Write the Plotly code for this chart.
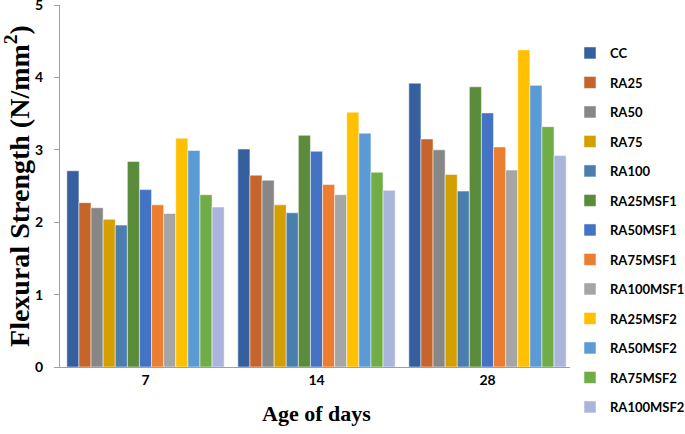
import plotly.graph_objects as go

categories = ["7", "14", "28"]
series_names = ["CC", "RA25", "RA50", "RA75", "RA100", "RA25MSF1", "RA50MSF1",
                "RA75MSF1", "RA100MSF1", "RA25MSF2", "RA50MSF2", "RA75MSF2", "RA100MSF2"]
CC = [2.71, 3.01, 3.92]
RA25 = [2.27, 2.65, 3.15]
RA50 = [2.20, 2.58, 3.00]
RA75 = [2.04, 2.24, 2.66]
RA100 = [1.96, 2.13, 2.43]
RA25MSF1 = [2.84, 3.20, 3.87]
RA50MSF1 = [2.45, 2.98, 3.51]
RA75MSF1 = [2.24, 2.52, 3.04]
RA100MSF1 = [2.12, 2.38, 2.72]
RA25MSF2 = [3.16, 3.52, 4.38]
RA50MSF2 = [2.99, 3.23, 3.89]
RA75MSF2 = [2.38, 2.69, 3.32]
RA100MSF2 = [2.21, 2.44, 2.92]
values = [CC, RA25, RA50, RA75, RA100, RA25MSF1, RA50MSF1, RA75MSF1, RA100MSF1,
          RA25MSF2, RA50MSF2, RA75MSF2, RA100MSF2]
colors = ["#365F9F", "#C5652B", "#878787", "#D49F00", "#4A7EAE", "#5B8C3B", "#4472C4",
          "#ED7D31", "#A5A5A5", "#FFC000", "#5B9BD5", "#70AD47", "#A9B5DB"]

fig = go.Figure()
for name, vals, col in zip(series_names, values, colors):
    fig.add_trace(go.Bar(x=categories, y=vals, name=name, legendgroup=name,
                         marker=dict(color=col, line=dict(color="white", width=0.5))))

fig.update_layout(
    width=685, height=434,
    margin=dict(l=60, r=112, t=5, b=67, autoexpand=False),
    plot_bgcolor="white", paper_bgcolor="white",
    barmode="group", bargap=0.08, bargroupgap=0,
    font=dict(family="Lato", color="black"),
    legend=dict(xref="container", yref="container", x=570 / 685, y=1 - 38 / 434,
                xanchor="left", yanchor="top",
                font=dict(family="Lato", size=13, color="black", weight="bold"),
                tracegroupgap=9.6, traceorder="grouped", itemwidth=30, maxheight=434),
    xaxis=dict(type="category", showline=True, linecolor="#A0A0A0", linewidth=1,
               automargin=False,
               ticks="", tickfont=dict(size=14, family="Lato", weight="bold"),
               title=dict(text="Age of days", font=dict(family="Liberation Serif", size=22, weight="bold"),
                          standoff=18)),
    yaxis=dict(range=[0, 5], dtick=1, showline=True, linecolor="#A0A0A0", linewidth=1,
               automargin=False, ticklabeloverflow="allow",
               showgrid=False, ticks="outside", ticklen=5, tickcolor="#A0A0A0",
               ticklabelstandoff=8,
               tickfont=dict(size=14, family="Lato", weight="bold"),
               title=dict(text="Flexural Strength (N/mm<sup>2</sup>)",
                          font=dict(family="Liberation Serif", size=28, weight="bold"),
                          standoff=0),
               zeroline=False),
)
fig.write_html("out.html", config={"displayModeBar": False},
               post_script="document.body.style.margin='0';")
